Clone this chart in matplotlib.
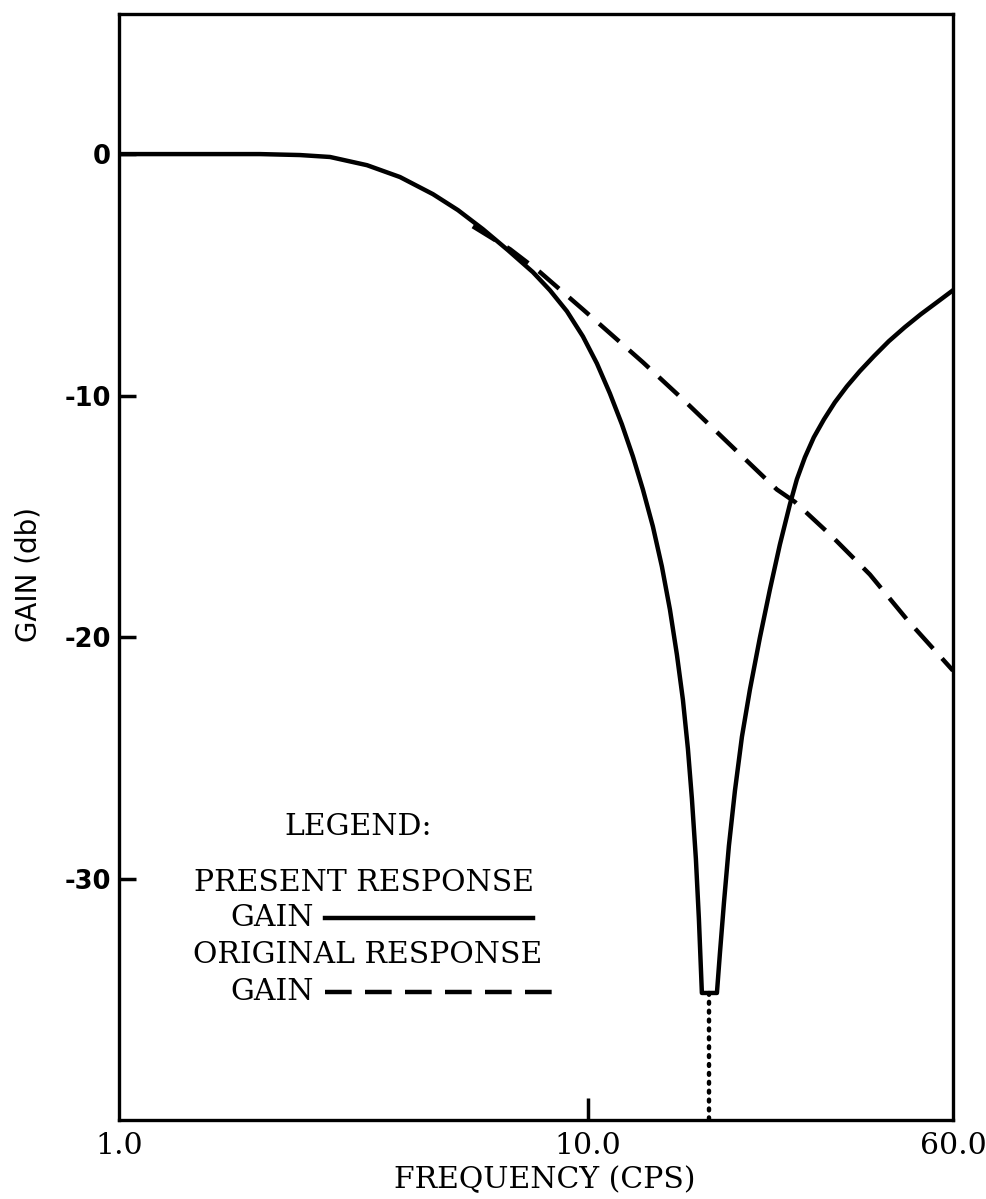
import numpy as np
import matplotlib
matplotlib.use("Agg")
import matplotlib.pyplot as plt
import matplotlib.ticker as mtick

# present response (with notch), freq in cps, gain in db
present_freq = [1.0, 1.488, 1.998, 2.431, 2.818, 3.379, 3.972, 4.671, 5.28, 5.97,
                6.75, 7.63, 8.295, 9.016, 9.752, 10.446, 11.133, 11.809, 12.465,
                13.092, 13.75, 14.372, 14.95, 15.472, 15.935, 16.331, 16.654, 16.983,
                17.235, 17.49,
                18.83, 19.11, 19.49, 19.97, 20.57, 21.29, 22.14, 23.25, 24.42, 25.65,
                26.94, 27.88, 29.0, 30.3, 31.84, 33.6, 35.64, 37.98, 40.7, 43.79,
                47.36, 51.26, 55.43, 60.0]
present_gain = [0.0, 0.0, 0.0, -0.04, -0.12, -0.46, -0.95, -1.66, -2.32, -3.11,
                -3.98, -4.89, -5.64, -6.51, -7.55, -8.67, -9.91, -11.19, -12.52,
                -13.89, -15.42, -17.08, -18.86, -20.73, -22.6, -24.63, -26.7, -29.19,
                -31.67, -34.74,
                -34.74, -33.09, -31.01, -28.65, -26.37, -24.13, -22.18, -20.03, -18.04, -16.17,
                -14.51, -13.47, -12.56, -11.73, -10.99, -10.28, -9.62, -8.99, -8.37, -7.75,
                -7.17, -6.63, -6.14, -5.64]

# original response
original_freq = [5.68, 6.82, 7.9, 9.75, 13.09, 15.94, 20.0, 25.27, 27.6, 33.0, 39.9, 48.0, 60.0]
original_gain = [-2.99, -3.94, -4.89, -6.43, -8.62, -10.16, -12.0, -13.89, -14.4,
                 -15.8, -17.41, -19.3, -21.39]

notch_freq = 18.1
notch_gain = -34.74

x_ticks = [1.0, 10.0, 60.0]
x_ticklabels = ['1.0', '10.0', '60.0']
y_ticks = [0, -10, -20, -30]
y_ticklabels = ['0', '-10', '-20', '-30']

serif = 'DejaVu Serif'
dash = (6, 3)

fig = plt.figure(figsize=(9.86, 11.99), dpi=100)
ax = fig.add_axes([0.1207, 0.0659, 0.8458, 0.9224])

ax.plot(present_freq, present_gain, color='black', lw=3.2, solid_joinstyle='round')
ax.plot(original_freq, original_gain, color='black', lw=3.2, dashes=dash)
ax.plot([notch_freq, notch_freq], [notch_gain, -40], color='black', lw=3.2,
        linestyle=(0, (0.4, 1.6)), dash_capstyle='round')

ax.set_xscale('log')
ax.set_xlim(1.0, 60.0)
ax.set_ylim(-40, 5.8)

ax.xaxis.set_major_locator(mtick.FixedLocator(x_ticks))
ax.xaxis.set_major_formatter(mtick.FixedFormatter(x_ticklabels))
ax.xaxis.set_minor_locator(mtick.NullLocator())
ax.set_yticks(y_ticks)
ax.set_yticklabels(y_ticklabels)

ax.tick_params(axis='x', direction='in', length=16, width=2.5, pad=9,
               labelsize=21.5)
ax.tick_params(axis='y', direction='in', length=12, width=2.5, pad=6,
               labelsize=18.5)
# corner ticks at 1.0 and 60.0 carry only labels
xt = ax.xaxis.get_major_ticks()
for t in (xt[0], xt[-1]):
    t.tick1line.set_visible(False)
for lab in ax.get_xticklabels():
    lab.set_fontfamily(serif)
for lab in ax.get_yticklabels():
    lab.set_fontweight('bold')
    lab.set_fontfamily('DejaVu Sans')

for s in ax.spines.values():
    s.set_linewidth(2.4)

fig.text(545 / 986, 1 - 1180 / 1199, 'FREQUENCY (CPS)', ha='center', va='center',
         fontsize=21.5, family=serif)
fig.text(28 / 986, 1 - 575 / 1199, 'GAIN (db)', ha='center', va='center',
         rotation=90, fontsize=20, family='DejaVu Sans')

# lettered legend inside the plot
tr = ax.transAxes
fs = 21.5
ax.text(0.2866, 0.2649, 'LEGEND:', transform=tr, ha='center', va='center',
        fontsize=fs, family=serif)
ax.text(0.294, 0.2143, 'PRESENT RESPONSE', transform=tr, ha='center', va='center',
        fontsize=fs, family=serif)
ax.text(0.133, 0.1826, 'GAIN', transform=tr, ha='left', va='center',
        fontsize=fs, family=serif)
ax.plot([0.247, 0.496], [0.1826, 0.1826], transform=tr, color='black', lw=3.2)
ax.text(0.2977, 0.1492, 'ORIGINAL RESPONSE', transform=tr, ha='center', va='center',
        fontsize=fs, family=serif)
ax.text(0.133, 0.1157, 'GAIN', transform=tr, ha='left', va='center',
        fontsize=fs, family=serif)
ax.plot([0.247, 0.520], [0.1157, 0.1157], transform=tr, color='black', lw=3.2,
        dashes=dash)

fig.savefig('out.png', dpi=100)
